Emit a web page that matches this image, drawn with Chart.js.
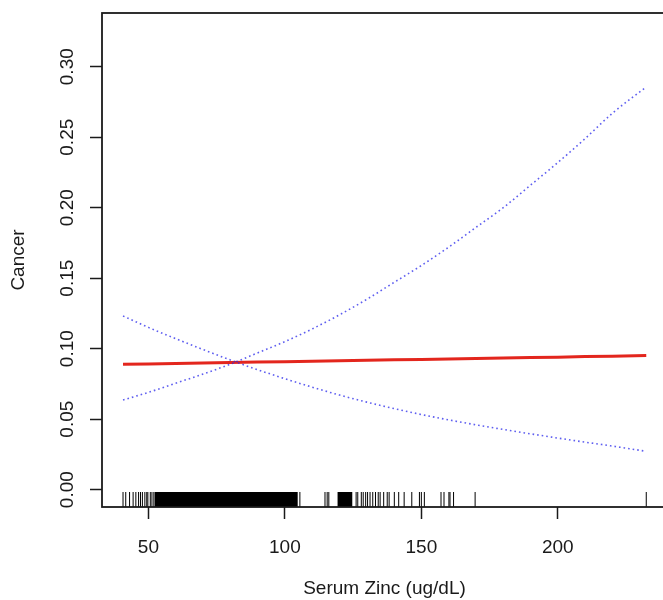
<!DOCTYPE html>
<html>
<head>
<meta charset="utf-8">
<script src="https://cdn.jsdelivr.net/npm/chart.js@4.4.1/dist/chart.umd.min.js"></script>
<style>
  html, body { margin: 0; padding: 0; background: #fff; overflow: hidden; }
  #wrap { width: 663px; height: 600px; overflow: hidden; }
  canvas { display: block; }
</style>
</head>
<body>
<div id="wrap"><canvas id="zincChart" width="668" height="600"></canvas></div>
<script>
// serum zinc grid for the fitted curve and its confidence band
const zinc  = [40.7, 50, 60, 70, 80, 90, 100, 110, 120, 130, 140, 150, 160, 170, 180, 190, 200, 210, 220, 232.4];
const fit   = [0.0889, 0.0892, 0.0895, 0.0898, 0.0902, 0.0905, 0.0908, 0.0911, 0.0914, 0.0918, 0.0921, 0.0924, 0.0927, 0.0931, 0.0934, 0.0937, 0.0940, 0.0944, 0.0947, 0.0952];
const upper = [0.0636, 0.069, 0.0755, 0.082, 0.089, 0.097, 0.105, 0.114, 0.124, 0.135, 0.147, 0.159, 0.172, 0.186, 0.200, 0.216, 0.232, 0.249, 0.267, 0.2856];
const lower = [0.1232, 0.1151, 0.1071, 0.0994, 0.092, 0.0851, 0.0787, 0.0727, 0.0671, 0.0621, 0.0575, 0.0533, 0.0495, 0.046, 0.0427, 0.0396, 0.0366, 0.0337, 0.0309, 0.0272];

// observed values shown as a rug under the curve
const rugSparse = [40.7, 41.7, 43.1, 44.4, 45.4, 46.4, 47.1, 47.8, 48.7, 49.4, 49.8, 50.7, 51.3, 52.0,
  105.5, 114.7, 115.5, 116.1, 126.1, 126.7, 128.0, 128.7, 129.6, 130.3, 131.2, 132.2, 133.2, 134.2,
  134.9, 136.2, 137.5, 138.2, 140.1, 141.7, 143.7, 146.5, 149.3, 150.0, 151.1, 157.2, 158.3, 160.1,
  160.5, 161.8, 169.7, 232.4];
const rugDense = [53, 54, 55, 56, 57, 58, 59, 60, 61, 62, 63, 64, 65, 66, 67, 68, 69, 70, 71, 72, 73,
  74, 75, 76, 77, 78, 79, 80, 81, 82, 83, 84, 85, 86, 87, 88, 89, 90, 91, 92, 93, 94, 95, 96, 97, 98,
  99, 100, 101, 102, 103, 104, 120, 121, 122, 123, 124];

const xTicks = [50, 100, 150, 200];
const yTicks = [0, 0.05, 0.10, 0.15, 0.20, 0.25, 0.30];

const FONT = 'Liberation Sans, Arial, Helvetica, sans-serif';
const ink = '#1a1a1a';
const ciBlue = 'rgba(40,40,235,0.75)';

function pts(ys) { return zinc.map((x, i) => ({ x: x, y: ys[i] })); }

const framePlugin = {
  id: 'frame',
  afterDatasetsDraw(chart) {
    const { ctx, chartArea: a, scales } = chart;
    ctx.save();
    // rug
    ctx.strokeStyle = '#000';
    ctx.lineCap = 'butt';
    const drawRug = (vals, w) => {
      ctx.lineWidth = w;
      vals.forEach(v => {
        const x = scales.x.getPixelForValue(v);
        ctx.beginPath();
        ctx.moveTo(x, a.bottom);
        ctx.lineTo(x, a.bottom - 15);
        ctx.stroke();
      });
    };
    drawRug(rugSparse, 1);
    drawRug(rugDense, 3.8);
    // box
    ctx.lineWidth = 1.8;
    ctx.strokeStyle = ink;
    ctx.strokeRect(a.left, a.top, a.right - a.left, a.bottom - a.top);
    // y tick labels, parallel to the axis
    ctx.fillStyle = ink;
    ctx.font = '19px ' + FONT;
    ctx.textAlign = 'center';
    ctx.textBaseline = 'middle';
    scales.y.ticks.forEach(t => {
      const y = scales.y.getPixelForValue(t.value);
      ctx.save();
      ctx.translate(68, y);
      ctx.rotate(-Math.PI / 2);
      ctx.fillText(t.value.toFixed(2), 0, 0);
      ctx.restore();
    });
    ctx.restore();
  }
};

new Chart(document.getElementById('zincChart'), {
  type: 'line',
  data: {
    datasets: [
      { data: pts(upper), borderColor: ciBlue, borderWidth: 1.6, borderDash: [1.6, 3],
        pointRadius: 0, cubicInterpolationMode: 'monotone', fill: false },
      { data: pts(lower), borderColor: ciBlue, borderWidth: 1.6, borderDash: [1.6, 3],
        pointRadius: 0, cubicInterpolationMode: 'monotone', fill: false },
      { data: pts(fit), borderColor: '#e3261d', borderWidth: 3,
        pointRadius: 0, fill: false }
    ]
  },
  options: {
    responsive: false,
    animation: false,
    devicePixelRatio: 1,
    layout: { padding: { top: 13, right: 1, left: 0, bottom: 0 } },
    plugins: { legend: { display: false }, tooltip: { enabled: false } },
    scales: {
      x: {
        type: 'linear',
        min: 33,
        max: 240,
        afterFit(s) { s.height = 93; },
        afterBuildTicks(s) { s.ticks = xTicks.map(v => ({ value: v })); },
        ticks: { color: ink, font: { family: FONT, size: 19 }, padding: 17, maxRotation: 0 },
        grid: { drawOnChartArea: false, drawTicks: true, tickLength: 12, tickColor: ink, tickWidth: 1.5 },
        border: { display: false },
        title: { display: true, text: 'Serum Zinc (ug/dL)', color: ink,
          font: { family: FONT, size: 19 }, padding: { top: 0, bottom: 0 } }
      },
      y: {
        type: 'linear',
        min: -0.0123,
        max: 0.3381,
        afterFit(s) { s.width = 102; },
        afterBuildTicks(s) { s.ticks = yTicks.map(v => ({ value: v })); },
        ticks: { display: false },
        grid: { drawOnChartArea: false, drawTicks: true, tickLength: 12, tickColor: ink, tickWidth: 1.5 },
        border: { display: false },
        title: { display: true, text: 'Cancer', color: ink,
          font: { family: FONT, size: 19 }, padding: { top: 7, bottom: 0 } }
      }
    }
  },
  plugins: [framePlugin]
});
</script>
</body>
</html>
